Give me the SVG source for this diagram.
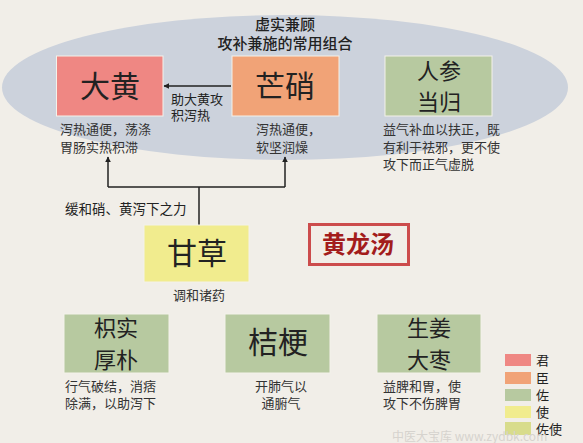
<svg xmlns="http://www.w3.org/2000/svg" width="583" height="443" viewBox="0 0 583 443">
<style>
text{font-family:"Noto Sans CJK SC","Noto Sans",sans-serif;fill:#222}
.big{font-size:30px;text-anchor:middle}
.mid{font-size:22px;text-anchor:middle}
.desc{font-size:13px;fill:#333}
.leg{font-size:13px}
.line{stroke:#222;stroke-width:1.5;fill:none}
.box{stroke:#f4f1ea;stroke-width:1}
</style>
<defs>
<marker id="ah" viewBox="0 0 10 10" refX="9" refY="5" markerWidth="6" markerHeight="6" orient="auto-start-reverse" markerUnits="userSpaceOnUse">
<path d="M0,0 L10,5 L0,10 z" fill="#222"/>
</marker>
</defs>
<rect x="0" y="0" width="583" height="443" fill="#f1eee8"/>
<g id="group-ellipse">
<ellipse cx="285" cy="87.5" rx="283" ry="72.5" fill="#ccd2dc"/>
<text x="285" y="30" font-size="15" text-anchor="middle" font-weight="500">虚实兼顾</text>
<text x="285" y="48.5" font-size="15" text-anchor="middle" font-weight="500">攻补兼施的常用组合</text>
</g>
<g id="connectors">
<line class="line" x1="231" y1="86" x2="164" y2="86" marker-end="url(#ah)"/>
<text x="171" y="104" font-size="13" fill="#333">助大黄攻</text>
<text x="171" y="120" font-size="13" fill="#333">积泻热</text>
<polyline class="line" points="199,225 199,187"/>
<polyline class="line" points="108,187 285,187"/>
<line class="line" x1="108" y1="187" x2="108" y2="157" marker-end="url(#ah)"/>
<line class="line" x1="285" y1="187" x2="285" y2="157" marker-end="url(#ah)"/>
<text x="65" y="214" font-size="13.5" fill="#333">缓和硝、黄泻下之力</text>
</g>
<g id="dahuang">
<rect class="box" x="56.5" y="56" width="106.5" height="60" fill="#ef8783"/>
<text class="big" x="110" y="97">大黄</text>
<text class="desc" x="60" y="134">泻热通便，荡涤</text>
<text class="desc" x="60" y="152">胃肠实热积滞</text>
</g>
<g id="mangxiao">
<rect class="box" x="232" y="56" width="107" height="60" fill="#f1a377"/>
<text class="big" x="285" y="97">芒硝</text>
<text class="desc" x="256" y="134">泻热通便，</text>
<text class="desc" x="256" y="152">软坚润燥</text>
</g>
<g id="renshen">
<rect class="box" x="385" y="56" width="107" height="60" fill="#b7c9a0"/>
<text class="mid" x="439" y="79">人参</text>
<text class="mid" x="439" y="110">当归</text>
<text class="desc" x="383" y="134">益气补血以扶正，既</text>
<text class="desc" x="383" y="152">有利于祛邪，更不使</text>
<text class="desc" x="383" y="169">攻下而正气虚脱</text>
</g>
<g id="gancao">
<rect class="box" x="144" y="225" width="105" height="57" fill="#f1ec8e"/>
<text class="big" x="197" y="264">甘草</text>
<text class="desc" x="199" y="300" text-anchor="middle">调和诸药</text>
</g>
<g id="huanglongtang">
<rect x="309.5" y="224.5" width="99" height="40" fill="none" stroke="#cc4c4c" stroke-width="3"/>
<text x="358" y="253" font-size="24" font-weight="bold" text-anchor="middle" style="fill:#a31c1c">黄龙汤</text>
</g>
<g id="zhishi">
<rect class="box" x="64" y="314" width="105" height="59" fill="#b7c9a0"/>
<text class="mid" x="116" y="336">枳实</text>
<text class="mid" x="116" y="368">厚朴</text>
<text class="desc" x="65" y="391">行气破结，消痞</text>
<text class="desc" x="65" y="408">除满，以助泻下</text>
</g>
<g id="jiegeng">
<rect class="box" x="225" y="314" width="105" height="59" fill="#b7c9a0"/>
<text class="big" x="278" y="353">桔梗</text>
<text class="desc" x="281" y="391" text-anchor="middle">开肺气以</text>
<text class="desc" x="281" y="408" text-anchor="middle">通腑气</text>
</g>
<g id="shengjiang">
<rect class="box" x="377" y="314" width="104" height="59" fill="#b7c9a0"/>
<text class="mid" x="429" y="336">生姜</text>
<text class="mid" x="429" y="368">大枣</text>
<text class="desc" x="383" y="391">益脾和胃，使</text>
<text class="desc" x="383" y="408">攻下不伤脾胃</text>
</g>
<g id="legend">
<rect x="505" y="354" width="26" height="12" fill="#ef8783"/>
<text class="leg" x="536" y="365">君</text>
<rect x="505" y="372" width="26" height="12" fill="#f1a377"/>
<text class="leg" x="536" y="383">臣</text>
<rect x="505" y="389" width="26" height="12" fill="#b7c9a0"/>
<text class="leg" x="536" y="400">佐</text>
<rect x="505" y="406" width="26" height="12" fill="#f1ec8e"/>
<text class="leg" x="536" y="417">使</text>
<rect x="505" y="422" width="26" height="13" fill="#d8dc8c"/>
<text class="leg" x="536" y="434">佐使</text>
</g>
<g id="watermark">
<text x="392" y="441" font-size="12" style="fill:#d6d3ce">中医大宝库 www.zydbk.com</text>
</g>
</svg>
